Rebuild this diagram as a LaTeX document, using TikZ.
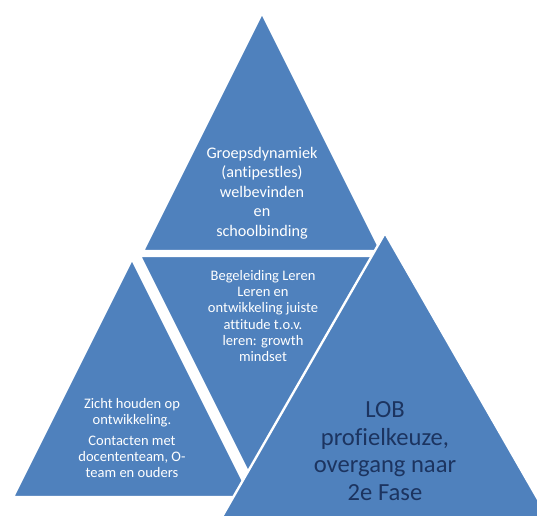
\documentclass[tikz,border=0pt]{standalone}
\usepackage{fontspec}
\setmainfont{Carlito}[Ligatures=CommonOff]
\def\toptriangle{(262,13) -- (381,251) -- (143,251) -- cycle}
\def\middletriangle{(140,256) -- (384,256) -- (262,500) -- cycle}
\def\lefttriangle{(132,259) -- (251,497) -- (13,497) -- cycle}
\def\righttriangle{(385,233) -- (551,522) -- (219,522) -- cycle}
\definecolor{piece area}{RGB}{79,129,189}
\definecolor{lob text}{RGB}{28,52,96}
\tikzset{piece/.style={fill=piece area, draw=white, line width=2pt, line join=round},
    white text/.style={text=white, align=center, inner sep=0pt},
    big text/.style={text=lob text, align=center, inner sep=0pt,
        font=\fontsize{21}{23.5}\selectfont}}

\begin{document}
\begin{tikzpicture}[x=0.03cm, y=-0.03cm]
    \useasboundingbox (0,0) rectangle (537,516);
    \clip (0,0) rectangle (537,516);
    \filldraw[piece] \toptriangle;
    \filldraw[piece] \middletriangle;
    \filldraw[piece] \lefttriangle;
    \filldraw[piece] \righttriangle;
    \node[white text, font=\fontsize{13.8}{16.6}\selectfont] (groep) at (262,193)
        {Groepsdynamiek\\(antipestles)\\welbevinden\\en\\schoolbinding};
    \node[white text, font=\fontsize{12.4}{13.8}\selectfont] (begeleiding) at (263,316)
        {Begeleiding Leren\\Leren en\\ontwikkeling juiste\\attitude t.o.v.\\leren: growth\\mindset};
    \node[white text, font=\fontsize{12.4}{13.6}\selectfont] (zicht) at (132,438)
        {Zicht houden op\\ontwikkeling.\\[5pt]Contacten met\\docententeam, O-\\team en ouders};
    \node[big text] (lob) at (385,451)
        {LOB\\profielkeuze,\\overgang naar\\2e Fase};
\end{tikzpicture}
\end{document}
